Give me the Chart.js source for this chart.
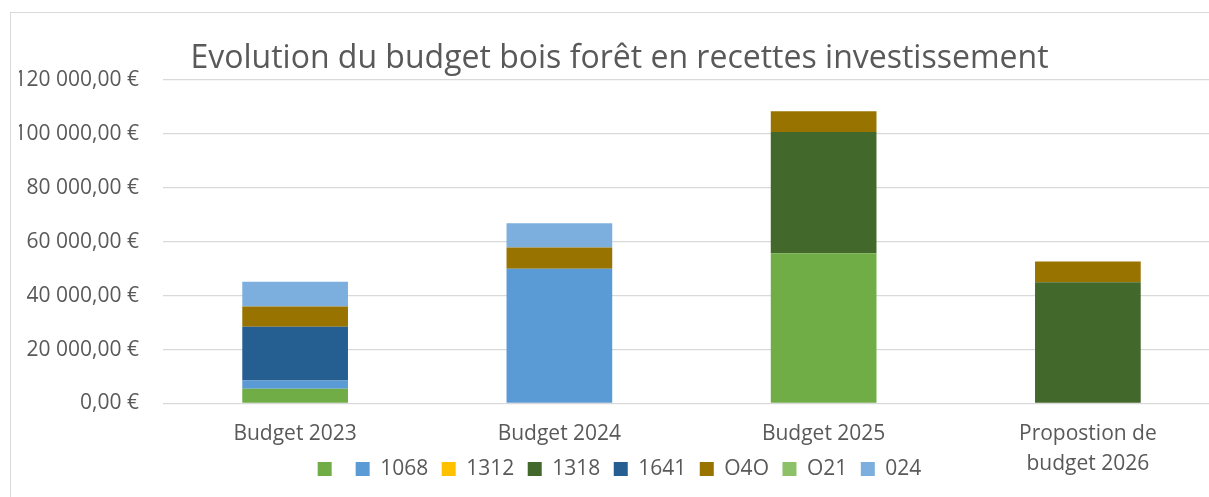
<!DOCTYPE html>
<html>
<head>
<meta charset="utf-8">
<script src="https://cdn.jsdelivr.net/npm/chart.js@4/dist/chart.umd.min.js"></script>
<style>
  html, body { margin: 0; padding: 0; background: #ffffff; overflow: hidden; width: 1209px; height: 497px; }
  #frame { position: absolute; left: 10px; top: 12px; width: 1300px; height: 600px; border: 1px solid #d9d9d9; }
  #c { position: absolute; left: 0; top: 0; }
</style>
</head>
<body>
<div id="frame"></div>
<canvas id="c" width="1220" height="521"></canvas>
<script>
const categories = ["Budget 2023", "Budget 2024", "Budget 2025", ["Propostion de", "budget 2026"]];
const seriesNames = ["", "1068", "1312", "1318", "1641", "O4O", "O21", "024"];
const serieBlank = [5500, 0, 55700, 0];
const serie1068  = [3000, 50000, 0, 0];
const serie1312  = [0, 0, 0, 0];
const serie1318  = [0, 0, 45000, 45000];
const serie1641  = [20000, 0, 0, 0];
const serieO4O   = [7500, 7900, 7700, 7700];
const serieO21   = [0, 0, 0, 0];
const serie024   = [9200, 9000, 0, 0];
const yTicks = [0, 20000, 40000, 60000, 80000, 100000, 120000];
const colors = ["#70AD47", "#5B9BD5", "#FFC000", "#43682B", "#255E91", "#997300", "#8CC168", "#7CAFDD"];

const allSeries = [serieBlank, serie1068, serie1312, serie1318, serie1641, serieO4O, serieO21, serie024];

function euro(v) {
  const s = Math.round(v).toString().replace(/\B(?=(\d{3})+(?!\d))/g, " ");
  return s + ",00 €";
}

const font = "'Open Sans', 'Noto Sans', sans-serif";
const txt = "#595959";
const legendPad = 13.5;
const legendFont = 21;
const legendCenterY = 469;

const legendMover = {
  id: "legendMover",
  afterLayout(chart) {
    const lg = chart.legend;
    if (!lg) return;
    const itemH = Math.max(legendFont, 14);
    const targetTop = legendCenterY - legendPad - itemH / 2;
    const shift = lg.top - targetTop;
    lg.top -= shift;
    lg.bottom -= shift;
  }
};

new Chart(document.getElementById("c"), {
  type: "bar",
  data: {
    labels: categories,
    datasets: allSeries.map((d, i) => ({
      label: seriesNames[i],
      data: d,
      backgroundColor: colors[i],
      borderWidth: 0,
      categoryPercentage: 1.0,
      barPercentage: 0.4
    }))
  },
  plugins: [legendMover],
  options: {
    responsive: false,
    animation: false,
    layout: { padding: { top: 12, left: 19, right: 0, bottom: 0 } },
    plugins: {
      tooltip: { enabled: false },
      title: {
        display: true,
        text: "Evolution du budget bois forêt en recettes investissement",
        color: txt,
        font: { family: font, size: 32, weight: "normal" },
        padding: { top: 28, bottom: 1.6 }
      },
      legend: {
        position: "bottom",
        labels: {
          color: txt,
          font: { family: font, size: legendFont },
          boxWidth: 14,
          boxHeight: 14,
          padding: legendPad
        }
      }
    },
    scales: {
      x: {
        stacked: true,
        grid: { display: false, drawTicks: false },
        border: { display: false },
        ticks: { color: txt, font: { family: font, size: 21, lineHeight: 1.4 }, padding: 16, maxRotation: 0, autoSkip: false },
        afterFit: (s) => { s.height = 73; }
      },
      y: {
        stacked: true,
        min: yTicks[0],
        max: yTicks[yTicks.length - 1],
        afterBuildTicks: (s) => { s.ticks = yTicks.map(v => ({ value: v })); },
        grid: { color: "#d9d9d9", lineWidth: 1.3, drawTicks: false },
        border: { display: false },
        ticks: { color: txt, font: { family: font, size: 21 }, padding: 24, callback: (v) => euro(v) },
        afterFit: (s) => { s.width = 144; }
      }
    }
  }
});
</script>
</body>
</html>
